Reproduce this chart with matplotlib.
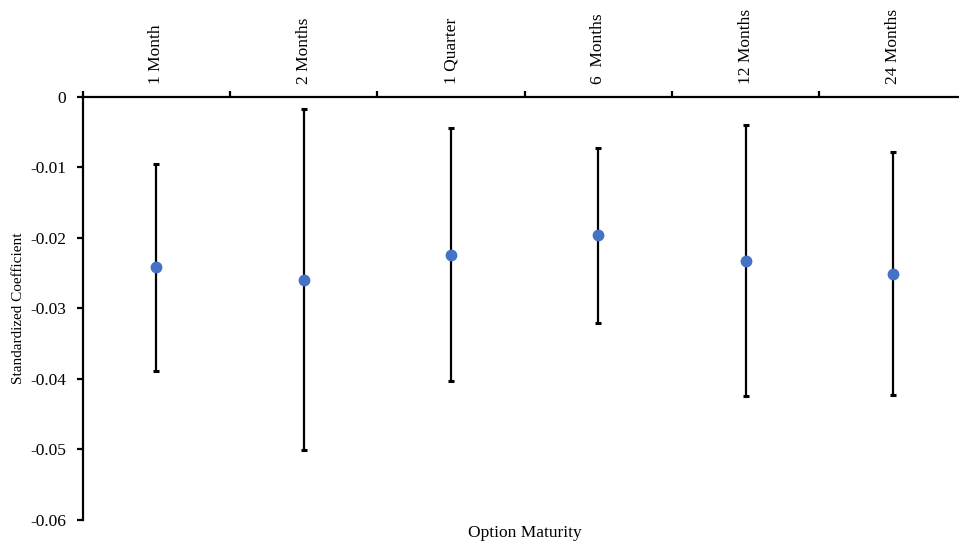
import numpy as np
import matplotlib
matplotlib.use('Agg')
import matplotlib.pyplot as plt

plt.rcParams['font.family'] = ['Liberation Serif', 'DejaVu Serif']

# Option maturities and their standardized coefficients with confidence bounds
maturities = ['1 Month', '2 Months', '1 Quarter', '6  Months', '12 Months', '24 Months']
coef = [-0.02415, -0.02595, -0.02235, -0.01965, -0.02325, -0.02505]
upper = [-0.0095, -0.0017, -0.00435, -0.0073, -0.0040, -0.00777]
lower = [-0.0388, -0.0501, -0.0403, -0.0320, -0.04247, -0.04233]

coef = np.array(coef)
yerr = np.vstack([coef - np.array(lower), np.array(upper) - coef])
x = np.arange(len(maturities))

fig = plt.figure(figsize=(9.59, 5.48), dpi=100)
ax = fig.add_axes([0.0862, 0.0511, 0.922, 0.772])

ax.errorbar(x, coef, yerr=yerr, fmt='none', ecolor='black', elinewidth=1.6,
            capsize=2.2, capthick=2.2, zorder=2)
ax.plot(x, coef, 'o', color='#4472C4', markersize=7.5, zorder=3)

ax.set_xlim(-0.5, len(maturities) - 0.5)
ax.set_ylim(-0.06, 0)

# category axis sits on y = 0 at the top
for side in ['right', 'bottom']:
    ax.spines[side].set_visible(False)
for side in ['left', 'top']:
    ax.spines[side].set_linewidth(1.6)

ax.xaxis.set_ticks_position('top')
ax.set_xticks(np.arange(-0.5, len(maturities), 1.0))
ax.set_xticklabels([])
ax.set_xticks(x, minor=True)
ax.set_xticklabels(maturities, minor=True, rotation=90, fontsize=12.5)
ax.tick_params(axis='x', which='major', direction='out', length=4, width=1.6)
ax.tick_params(axis='x', which='minor', length=0, pad=9)

ax.set_yticks(np.arange(-0.06, 0.001, 0.01))
ax.set_yticklabels(['-0.06', '-0.05', '-0.04', '-0.03', '-0.02', '-0.01', '0'])
ax.tick_params(axis='y', direction='out', length=4, width=1.6, labelsize=12.5, pad=8)

ax.set_ylabel('Standardized Coefficient', fontsize=11)
ax.yaxis.set_label_coords(-0.0655, 0.5)
fig.text(0.5471, 1 - 533 / 548, 'Option Maturity', ha='center', va='center', fontsize=12.5)

fig.savefig('out.png', dpi=100)
